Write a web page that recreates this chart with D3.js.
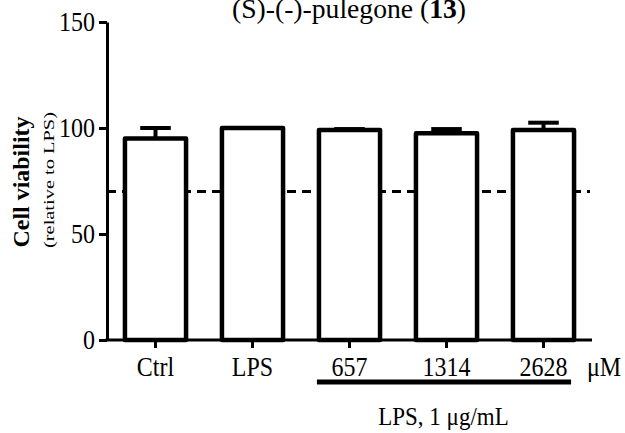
<!DOCTYPE html>
<html>
<head>
<meta charset="utf-8">
<script src="https://cdn.jsdelivr.net/npm/d3@7"></script>
<style>
  html, body { margin: 0; padding: 0; background: #fff; }
  svg { display: block; }
  svg text { font-family: "Liberation Serif", "Times New Roman", Times, serif; fill: #000; }
</style>
</head>
<body>
<svg id="chart" width="625" height="433"></svg>
<script>
const categories = ["Ctrl", "LPS", "657", "1314", "2628"];
const values = [95, 100, 99, 97.5, 99];
const errors = [5, 0, 0.5, 2, 3.5];
const yTicks = [0, 50, 100, 150];
const threshold = 70;
const treatedGroups = ["657", "1314", "2628"];

const SY = 1.12; // vertical stretch of lettering seen in the reference
const svg = d3.select("#chart");
const x = d3.scaleBand().domain(categories).range([107, 592]).paddingInner(0.37).paddingOuter(0.185);
const y = d3.scaleLinear().domain([0, 150]).range([340, 22]);

// title
const title = svg.append("text").attr("x", 349).attr("y", 18).attr("text-anchor", "middle")
  .attr("font-size", 27).attr("textLength", 234).attr("lengthAdjust", "spacingAndGlyphs");
title.append("tspan").text("(S)-(-)-pulegone (");
title.append("tspan").attr("font-weight", "bold").text("13");
title.append("tspan").text(")");

// dashed threshold line
svg.append("line")
  .attr("x1", 107).attr("x2", 590)
  .attr("y1", y(threshold)).attr("y2", y(threshold))
  .attr("stroke", "#000").attr("stroke-width", 3).attr("stroke-dasharray", "9,6");

// bars
const bw = x.bandwidth();
svg.append("g").selectAll("rect").data(categories).join("rect")
  .attr("x", d => x(d))
  .attr("y", (d, i) => y(values[i]))
  .attr("width", bw)
  .attr("height", (d, i) => y(0) - y(values[i]))
  .attr("fill", "#fff").attr("stroke", "#000").attr("stroke-width", 4.5)
  .attr("stroke-linejoin", "round");

// error bars (upper)
const eg = svg.append("g").attr("stroke", "#000").attr("stroke-width", 4);
categories.forEach((c, i) => {
  if (errors[i] <= 0) return;
  const cx = x(c) + bw / 2;
  const top = y(values[i] + errors[i]);
  eg.append("line").attr("x1", cx).attr("x2", cx).attr("y1", y(values[i])).attr("y2", top);
  eg.append("line").attr("x1", cx - bw / 4).attr("x2", cx + bw / 4).attr("y1", top).attr("y2", top);
});

// y axis
const yAxis = svg.append("g").attr("transform", "translate(107,0)")
  .call(d3.axisLeft(y).tickValues(yTicks).tickSize(8).tickSizeOuter(0).tickPadding(4));
yAxis.attr("font-family", null);
yAxis.selectAll("path, line").attr("stroke", "#000").attr("stroke-width", 3);
yAxis.selectAll("text").attr("font-size", 24).attr("fill", "#000")
  .attr("transform", `scale(1,${SY})`);

// x axis
const xAxis = svg.append("g").attr("transform", "translate(0,340)")
  .call(d3.axisBottom(x).tickSize(8).tickSizeOuter(0));
xAxis.attr("font-family", null);
xAxis.select("path").attr("d", "M105.5,0H592");
xAxis.selectAll("path, line").attr("stroke", "#000").attr("stroke-width", 3);
xAxis.selectAll("text").attr("font-size", 24).attr("fill", "#000")
  .attr("y", 36 / SY).attr("dy", 0).attr("transform", `scale(1,${SY})`);

// unit
svg.append("text").attr("transform", `translate(587,376) scale(1,${SY})`).attr("font-size", 24).text("μM");

// treatment underline
const x0 = x(treatedGroups[0]);
const x1 = x(treatedGroups[treatedGroups.length - 1]) + bw;
svg.append("line").attr("x1", x0 - 2).attr("x2", x1 - 3).attr("y1", 382).attr("y2", 382)
  .attr("stroke", "#000").attr("stroke-width", 5);
svg.append("text").attr("transform", `translate(${(x0 + x1) / 2 - 3},425) scale(1,${SY})`)
  .attr("text-anchor", "middle").attr("font-size", 23).text("LPS, 1 μg/mL");

// y label
svg.append("text").attr("transform", "translate(29,182) rotate(-90)").attr("text-anchor", "middle")
  .attr("font-size", 23).attr("font-weight", "bold").attr("textLength", 131)
  .attr("lengthAdjust", "spacingAndGlyphs").text("Cell viability");
svg.append("text").attr("transform", "translate(54,180) rotate(-90)").attr("text-anchor", "middle")
  .attr("font-size", 15.5).attr("textLength", 136).attr("lengthAdjust", "spacingAndGlyphs")
  .attr("fill", "#111").text("(relative to LPS)");
</script>
</body>
</html>
